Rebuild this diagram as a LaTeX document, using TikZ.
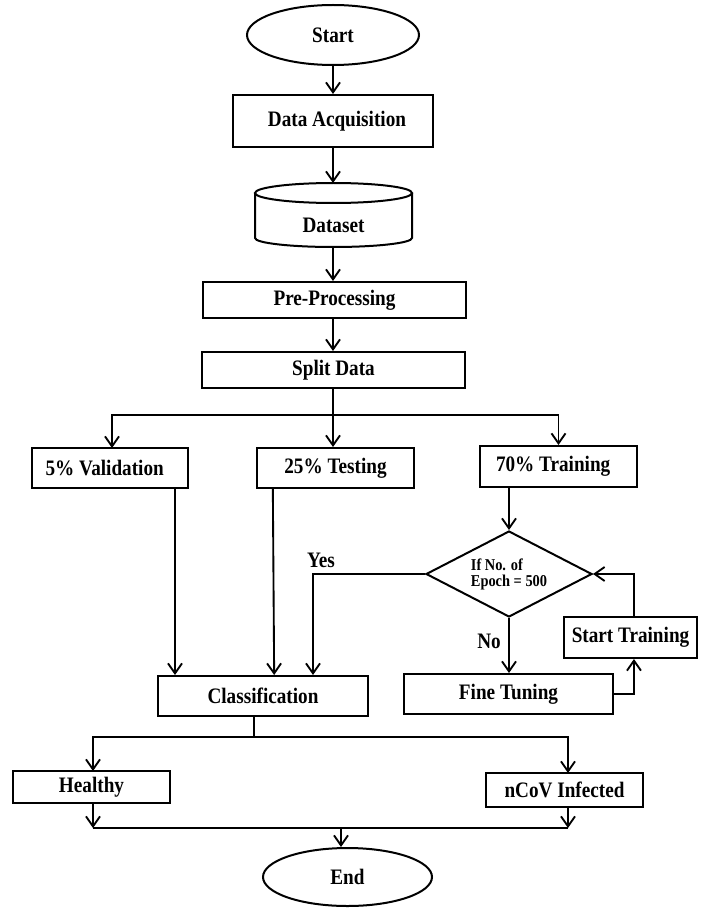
\documentclass[tikz,border=0pt]{standalone}
\usepackage{fontspec}
\usepackage{graphicx}
\setmainfont{Liberation Serif}
\usetikzlibrary{arrows.meta,shapes.geometric}
\newcommand{\vs}[1]{\scalebox{1}[1.15]{#1}}
\tikzset{
  box/.style={draw=black, line width=1.5pt, rectangle, inner sep=0pt, font=\fontsize{14.4}{16}\selectfont\bfseries},
  oval/.style={draw=black, line width=1.5pt, ellipse, inner sep=0pt, font=\fontsize{14.4}{16}\selectfont\bfseries},
  decision/.style={draw=black, line width=1.5pt, diamond, inner sep=0pt, aspect=1.93, align=left, font=\fontsize{10.8}{13}\selectfont\bfseries},
  lbl/.style={inner sep=0pt, font=\fontsize{14.4}{16}\selectfont\bfseries},
  conn/.style={line width=1.4pt, draw=black},
  arr/.style={conn, -{Straight Barb[length=7.5pt,width=10.5pt,line width=1.4pt]}},
}
\begin{document}
\begin{tikzpicture}[x=0.75pt,y=-0.75pt]
\useasboundingbox (0,0) rectangle (701,909);

% nodes
\node[oval, minimum width=129pt, minimum height=45pt] (start) at (333,35) {\vs{Start}};
\node[box, minimum width=150pt, minimum height=39pt] (acq) at (333,121) {\vs{\hspace{6pt}Data Acquisition}};

% dataset cylinder
\draw[line width=1.5pt] (333.5,193) ellipse [x radius=78.5, y radius=10];
\draw[line width=1.5pt] (255,193) -- (255,238) arc[start angle=180, end angle=0, x radius=78.5, y radius=9] -- (412,193);
\coordinate (dtop) at (333,183);
\coordinate (dbot) at (333,247);
\node[lbl] (dataset) at (333.5,225) {\vs{Dataset}};

\node[box, minimum width=197.25pt, minimum height=27pt] (pre) at (334.5,300) {\vs{Pre-Processing}};
\node[box, minimum width=197.25pt, minimum height=27pt] (split) at (333.5,370) {\vs{Split Data}};

\node[box, minimum width=117pt, minimum height=30pt] (val) at (110,468) {\vs{5\% Validation\hspace{8pt}}};
\node[box, minimum width=117.75pt, minimum height=30pt] (test) at (335.5,468) {\vs{25\% Testing}};
\node[box, minimum width=117.75pt, minimum height=30.75pt] (train) at (558.5,466.5) {\vs{70\% Training\hspace{8pt}}};

\node[decision, minimum width=124.5pt, minimum height=64.5pt] (dia) at (509,574) {\vs{If No. of}\\[-1pt]\vs{Epoch = 500}};

\node[box, minimum width=156.75pt, minimum height=30pt] (ft) at (508.5,694) {\vs{Fine Tuning}};
\node[box, minimum width=99.75pt, minimum height=30.75pt] (st) at (630.5,637.5) {\vs{Start Training}};
\node[box, minimum width=157.5pt, minimum height=30pt] (cls) at (263,696) {\vs{Classification}};

\node[box, minimum width=117.75pt, minimum height=24pt] (healthy) at (91.5,787) {\vs{Healthy}};
\node[box, minimum width=117.75pt, minimum height=25.5pt] (ncov) at (564.5,790) {\vs{nCoV Infected}};
\node[oval, minimum width=126.75pt, minimum height=43.5pt] (end) at (347.5,877) {\vs{End}};

\node[lbl] (yes) at (321,560) {\vs{Yes}};
\node[lbl] (no) at (489,641) {\vs{No}};

% connectors
\draw[arr] (start.south) -- (acq.north);
\draw[arr] (acq.south) -- (dtop);
\draw[arr] (dbot) -- (dbot |- pre.north);
\draw[arr] (dbot |- pre.south) -- (dbot |- split.north);

\coordinate (j1) at (333,415);
\draw[conn] (dbot |- split.south) -- (j1);
\draw[arr] (j1) -| (112,448);
\draw[arr] (j1) -- (j1 |- test.north);
\draw[arr] (j1) -| (train.north);

\draw[arr] ([xshift=48.75pt]val.south) -- ([xshift=48.75pt]val.south |- cls.north);
\draw[arr] ([xshift=-47pt]test.south) -- ([xshift=-46pt]test.south |- cls.north);
\draw[arr] (dia.west) -| ([xshift=37.5pt]cls.north);

\draw[arr] (train.south -| dia.north) -- (dia.north);
\draw[arr] (dia.south) -- (dia.south |- ft.north);
\draw[arr] (ft.east) -| ([xshift=2.6pt]st.south);
\draw[arr] ([xshift=2.6pt]st.north) |- (dia.east);

\coordinate (j2) at (254,737);
\draw[conn] ([xshift=-6.75pt]cls.south) -- (j2);
\draw[arr] (j2) -| (93,771);
\draw[arr] (j2) -| (568,773);

\coordinate (hb) at (93,828);
\coordinate (nb) at (568,828);
\coordinate (j3) at (341,828);
\draw[arr] (healthy.south -| hb) -- (hb);
\draw[arr] (ncov.south -| nb) -- (nb);
\draw[conn] (hb) -- (nb);
\draw[arr] (j3) -- (j3 |- end.north);
\end{tikzpicture}
\end{document}
